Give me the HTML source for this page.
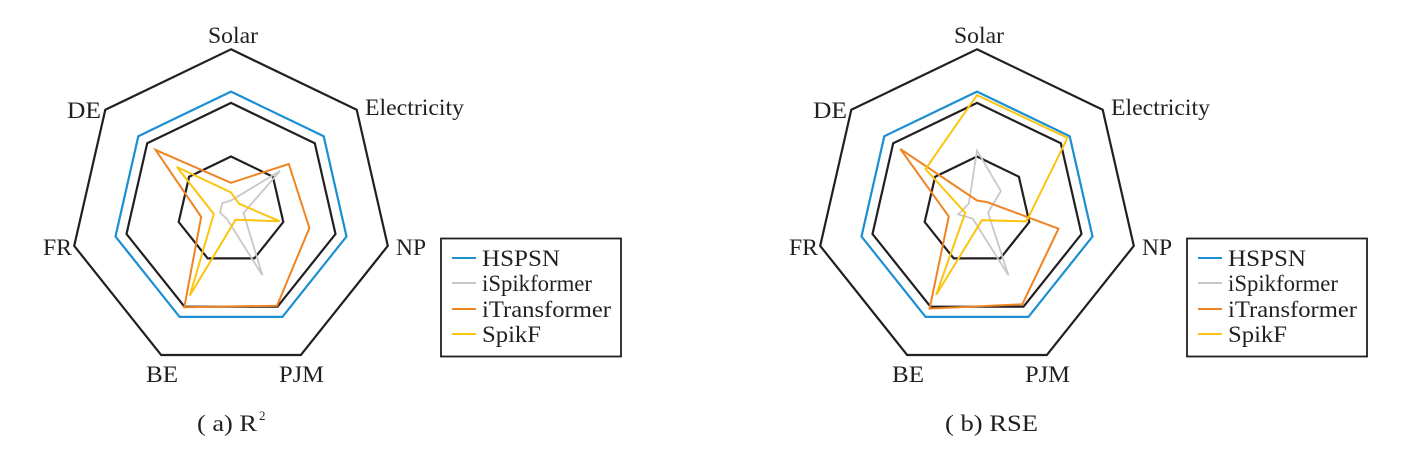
<!DOCTYPE html>
<html><head><meta charset="utf-8"><style>
html,body{margin:0;padding:0;background:#fff;}
svg{display:block;}
text{font-family:"Liberation Serif",serif;fill:#231f20;}
</style></head><body>
<svg id="s" width="1405" height="466" viewBox="0 0 1405 466" xmlns="http://www.w3.org/2000/svg">
<g font-size="23">
<text x="208" y="43" textLength="50" lengthAdjust="spacingAndGlyphs">Solar</text>
<text x="365" y="115" textLength="99" lengthAdjust="spacingAndGlyphs">Electricity</text>
<text x="396" y="255" textLength="30" lengthAdjust="spacingAndGlyphs">NP</text>
<text x="279" y="382" textLength="45" lengthAdjust="spacingAndGlyphs">PJM</text>
<text x="146" y="382" textLength="32" lengthAdjust="spacingAndGlyphs">BE</text>
<text x="43" y="255" textLength="29" lengthAdjust="spacingAndGlyphs">FR</text>
<text x="67" y="118" textLength="34" lengthAdjust="spacingAndGlyphs">DE</text>
<text x="954" y="43" textLength="50" lengthAdjust="spacingAndGlyphs">Solar</text>
<text x="1111" y="115" textLength="99" lengthAdjust="spacingAndGlyphs">Electricity</text>
<text x="1142" y="255" textLength="30" lengthAdjust="spacingAndGlyphs">NP</text>
<text x="1025" y="382" textLength="45" lengthAdjust="spacingAndGlyphs">PJM</text>
<text x="892" y="382" textLength="32" lengthAdjust="spacingAndGlyphs">BE</text>
<text x="789" y="255" textLength="29" lengthAdjust="spacingAndGlyphs">FR</text>
<text x="813" y="118" textLength="34" lengthAdjust="spacingAndGlyphs">DE</text>
<text x="197" y="431" textLength="60" lengthAdjust="spacingAndGlyphs">( a) R</text><text x="259" y="420" font-size="13">2</text>
<text x="945" y="431" textLength="93" lengthAdjust="spacingAndGlyphs">( b) RSE</text>
</g>
</svg>
<script>
var NS="http://www.w3.org/2000/svg",s=document.getElementById('s');
function poly(cx,cy,rs,col,w){var R=160.8,p=[];for(var i=0;i<7;i++){var a=(-90+i*360/7)*Math.PI/180;p.push((cx+R*rs[i]*Math.cos(a)).toFixed(1)+','+(cy+R*rs[i]*Math.sin(a)).toFixed(1));}
var e=document.createElementNS(NS,'polygon');e.setAttribute('points',p.join(' '));e.setAttribute('fill','none');e.setAttribute('stroke',col);e.setAttribute('stroke-width',w);e.setAttribute('stroke-linejoin','miter');s.appendChild(e);}
function rep(v){return [v,v,v,v,v,v,v];}
var cy=210.1;
function chart(cx,gray,orange,yellow){
 poly(cx,cy,rep(1),'#231f20',2.2);poly(cx,cy,rep(2/3),'#231f20',2.2);poly(cx,cy,rep(1/3),'#231f20',2.2);
 poly(cx,cy,rep(0.737),'#1b8fd2',2.2);
 poly(cx,cy,gray,'#c8c8c8',1.8);poly(cx,cy,orange,'#ee8424',2);poly(cx,cy,yellow,'#fcc40f',2);
}
chart(231,[0.06,0.39,0.08,0.45,0.06,0.07,0.07],[0.17,0.46,0.50,0.66,0.67,0.19,0.60],[0.11,0.064,0.31,0.066,0.59,0.11,0.43]);
chart(977,[0.37,0.19,0.07,0.45,0.06,0.12,0.065],[0.06,0.08,0.52,0.65,0.68,0.18,0.61],[0.715,0.72,0.315,0.07,0.585,0.075,0.41]);
function legend(x0){
 var r=document.createElementNS(NS,'rect');r.setAttribute('x',x0);r.setAttribute('y',238.5);r.setAttribute('width',180);r.setAttribute('height',118);r.setAttribute('fill','none');r.setAttribute('stroke','#231f20');r.setAttribute('stroke-width',1.8);s.appendChild(r);
 var it=[['HSPSN','#1b8fd2',258,78],['iSpikformer','#c8c8c8',283,110],['iTransformer','#ee8424',309,129],['SpikF','#fcc40f',334,59]];
 it.forEach(function(t){var l=document.createElementNS(NS,'line');l.setAttribute('x1',x0+11);l.setAttribute('x2',x0+35);l.setAttribute('y1',t[2]);l.setAttribute('y2',t[2]);l.setAttribute('stroke',t[1]);l.setAttribute('stroke-width',2);s.appendChild(l);
 var tx=document.createElementNS(NS,'text');tx.setAttribute('x',x0+41);tx.setAttribute('y',t[2]+8);tx.setAttribute('font-size','23');tx.setAttribute('textLength',t[3]);tx.setAttribute('lengthAdjust','spacingAndGlyphs');tx.textContent=t[0];s.appendChild(tx);});
}
legend(441);legend(1187);
</script>
</body></html>
